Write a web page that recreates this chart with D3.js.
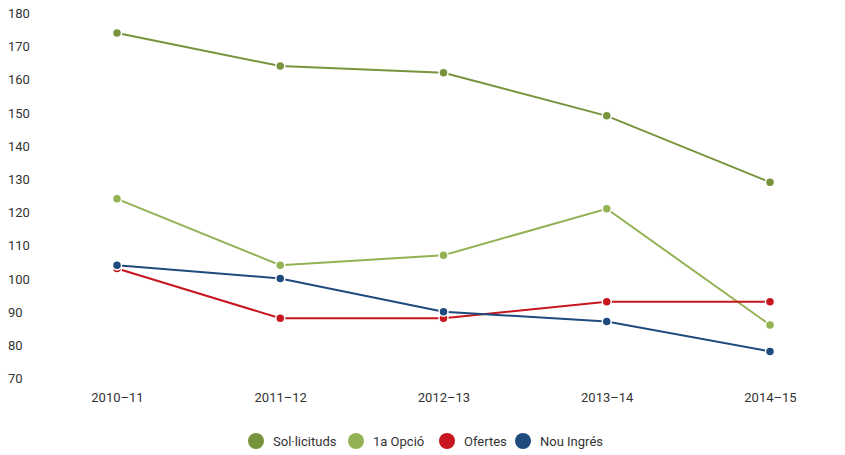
<!DOCTYPE html>
<html><head><meta charset="utf-8">
<script src="https://cdn.jsdelivr.net/npm/d3@7"></script>
<style>body{margin:0;background:#fff;font-family:Roboto,"Noto Sans",sans-serif}</style>
</head><body><svg id="c" width="845" height="455"></svg>
<script>
const categories = ["2010–11","2011–12","2012–13","2013–14","2014–15"];
const seriesNames = ["Sol·licituds","1a Opció","Ofertes","Nou Ingrés"];
const solicituds = [174,164,162,149,129];
const primeraOpcio = [124,104,107,121,86];
const ofertes = [103,88,88,93,93];
const nouIngres = [104,100,90,87,78];
const yTicks = [70,80,90,100,110,120,130,140,150,160,170,180];
const colors = ["#77933c","#93b254","#c8161f","#1f4a7e"];
const series = [solicituds, primeraOpcio, ofertes, nouIngres];

const svg = d3.select("#c");
const x = d3.scalePoint().domain(categories).range([117,770]);
const y = d3.scaleLinear().domain([70,180]).range([378,13]);

const yAxis = svg.append("g").call(d3.axisLeft(y).tickValues(yTicks).tickSize(0).tickFormat(d3.format("d")));
yAxis.select(".domain").remove();
yAxis.selectAll("text").attr("text-anchor","start").attr("x",8).attr("dy","0.35em")
  .style("font-family","Roboto").style("font-size","13px").attr("fill","#333");

const xAxis = svg.append("g").attr("transform","translate(0,397)").call(d3.axisBottom(x).tickSize(0));
xAxis.select(".domain").remove();
xAxis.selectAll("text").attr("y",0).attr("dy","0.35em")
  .style("font-family","Roboto").style("font-size","13px").attr("fill","#333");

const line = d3.line().x((d,i)=>x(categories[i])).y(d=>y(d));
series.forEach((s,k)=>{
  const g = svg.append("g");
  g.append("path").attr("d",line(s)).attr("fill","none").attr("stroke",colors[k]).attr("stroke-width",2);
  g.selectAll("circle").data(s).join("circle")
    .attr("cx",(d,i)=>x(categories[i])).attr("cy",d=>y(d)).attr("r",4.5)
    .attr("fill",colors[k]).attr("stroke","#fff").attr("stroke-width",1.5);
});

const legendX = [256,356,447,523];
const leg = svg.append("g");
seriesNames.forEach((n,k)=>{
  leg.append("circle").attr("cx",legendX[k]).attr("cy",441).attr("r",8).attr("fill",colors[k]);
  leg.append("text").attr("x",legendX[k]+17).attr("y",441).attr("dy","0.35em")
    .style("font-family","Roboto").style("font-size","13px").attr("fill","#333").text(n);
});
</script></body></html>
